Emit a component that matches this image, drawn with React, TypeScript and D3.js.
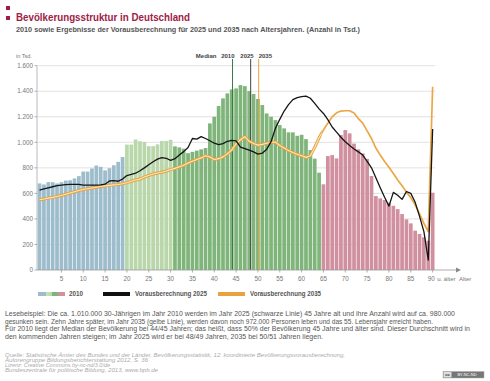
import React from 'react';
import * as d3 from 'd3';

const ages = d3.range(0, 91);
const tickAges = [5, 10, 15, 20, 25, 30, 35, 40, 45, 50, 55, 60, 65, 70, 75, 80, 85, 90];
const yTicks = [0, 200, 400, 600, 800, 1000, 1200, 1400, 1600];

const pop2010 = [
  678, 670, 688, 688, 678, 688, 700, 703, 717, 735,
  771, 771, 795, 818, 808, 780, 797, 820, 847, 885,
  982, 982, 1022, 1008, 1003, 970, 970, 984, 1010, 1010,
  1020, 968, 960, 950, 915, 925, 935, 945, 955, 1148,
  1200, 1284, 1344, 1383, 1414, 1422, 1448, 1440, 1401, 1378,
  1339, 1292, 1226, 1200, 1174, 1135, 1109, 1078, 1078, 1051,
  1059, 1025, 939, 872, 762, 671, 892, 900, 874, 1057,
  1096, 1070, 990, 945, 913, 870, 736, 579, 561, 548,
  527, 503, 477, 438, 397, 365, 308, 282, 256, 230,
  605,
];

const proj2025 = [
  626, 635, 644, 652, 660, 665, 669, 671, 671, 671,
  664, 665, 665, 665, 667, 672, 697, 700, 695, 712,
  740, 748, 758, 777, 800, 824, 848, 868, 880, 875,
  858, 872, 900, 927, 960, 1030, 1025, 1045, 1030, 1012,
  993, 982, 990, 1008, 1015, 1012, 962, 950, 938, 925,
  908, 915, 945, 1005, 1109, 1180, 1245, 1295, 1334, 1350,
  1358, 1362, 1345, 1305, 1262, 1226, 1178, 1120, 1080, 1040,
  1005, 975, 948, 925, 900, 850, 800, 722, 645, 570,
  500, 608, 585, 553, 615, 600, 530, 420, 300, 78,
  1105,
];

const proj2035 = [
  550, 556, 563, 569, 576, 583, 593, 603, 613, 622,
  630, 636, 642, 648, 654, 659, 663, 667, 670, 675,
  684, 695, 705, 712, 728, 740, 752, 760, 766, 775,
  786, 796, 808, 820, 838, 852, 866, 878, 895, 885,
  865, 872, 886, 910, 940, 988, 1020, 1044, 1008, 990,
  978, 984, 992, 1000, 1002, 975, 955, 935, 920, 906,
  895, 882, 895, 960, 1035, 1096, 1150, 1200, 1231, 1245,
  1247, 1247, 1230, 1185, 1150, 1090, 1030, 955, 900, 850,
  805, 755, 705, 660, 610, 565, 510, 440, 365, 300,
  1435,
];

const medianAges = [44.6, 48.76, 50.6];
const medianLabels = ['2010', '2025', '2035'];
const medianColors = ['#3d7a48', '#444444', '#e8a33e'];

const paragraph = [
  'Lesebeispiel: Die ca. 1.010.000 30-Jährigen im Jahr 2010 werden im Jahr 2025 (schwarze Linie) 45 Jahre alt und ihre Anzahl wird auf ca. 980.000',
  'gesunken sein. Zehn Jahre später, im Jahr 2035 (gelbe Linie), werden davon noch 972.000 Personen leben und das 55. Lebensjahr erreicht haben.',
  'Für 2010 liegt der Median der Bevölkerung bei 44/45 Jahren; das heißt, dass 50% der Bevölkerung 45 Jahre und älter sind. Dieser Durchschnitt wird in',
  'den kommenden Jahren steigen; im Jahr 2025 wird er bei 48/49 Jahren, 2035 bei 50/51 Jahren liegen.',
];
const paragraphWidths = [450, 428, 465, 318];

const source = [
  'Quelle: Statistische Ämter des Bundes und der Länder, Bevölkerungsstatistik, 12. koordinierte Bevölkerungsvorausberechnung,',
  'Autorengruppe Bildungsberichterstattung 2012, S. 36',
  'Lizenz: Creative Commons by-nc-nd/3.0/de',
  'Bundeszentrale für politische Bildung, 2013, www.bpb.de',
];
const sourceWidths = [340, 143, 105, 153];

const FONT = '"Liberation Sans", Arial, sans-serif';

function barColor(age: number) {
  if (age < 20) return '#9dbccc';
  if (age < 31) return '#b9d7ab';
  if (age < 65) return '#7fb47a';
  return '#d0909f';
}

export default function App() {
  const W = 490;
  const H = 381;
  const x = d3
    .scaleBand<number>()
    .domain(ages)
    .range([37.7, 434.5])
    .paddingInner(0.15)
    .paddingOuter(0);
  const y = d3.scaleLinear().domain([0, 1600]).range([270, 65.7]);
  const cx = (a: number) => (x(a) as number) + x.bandwidth() / 2;
  const step = x.step();
  const x0 = x(0) as number;
  const medX = (a: number) => x0 + a * step;

  const line = d3
    .line<number>()
    .x((_, i) => cx(ages[i]))
    .y((d) => y(d));

  const d2025 = line(proj2025) || '';
  const d2035 = line(proj2035) || '';
  const clipX = x(65) as number;

  return (
    <svg
      width={W}
      height={H}
      style={{ position: 'absolute', left: 0, top: 0, background: '#fff' }}
      fontFamily={FONT}
    >
      <defs>
        <clipPath id="leftPart">
          <rect x={0} y={0} width={clipX} height={H} />
        </clipPath>
        <clipPath id="rightPart">
          <rect x={clipX} y={0} width={W - clipX} height={H} />
        </clipPath>
        <linearGradient id="legGrad" x1="0" x2="1" y1="0" y2="0">
          <stop offset="0%" stopColor="#9dbccc" />
          <stop offset="28%" stopColor="#9dbccc" />
          <stop offset="30%" stopColor="#c9e0bd" />
          <stop offset="50%" stopColor="#b9d7ab" />
          <stop offset="52%" stopColor="#7fb47a" />
          <stop offset="72%" stopColor="#7fb47a" />
          <stop offset="74%" stopColor="#d0909f" />
          <stop offset="100%" stopColor="#d0909f" />
        </linearGradient>
      </defs>

      {/* Title */}
      <rect x={6} y={6} width={4} height={4} fill="#9e1d45" />
      <rect x={6} y={16} width={4} height={4} fill="#9e1d45" />
      <text x={16} y={21} fontSize={11.5} fontWeight="bold" fill="#9e1d45" textLength={174} lengthAdjust="spacingAndGlyphs">
        Bevölkerungsstruktur in Deutschland
      </text>
      <text x={16} y={32} fontSize={6.8} fontWeight="bold" fill="#555" textLength={344} lengthAdjust="spacingAndGlyphs">
        2010 sowie Ergebnisse der Vorausberechnung für 2025 und 2035 nach Altersjahren. (Anzahl in Tsd.)
      </text>

      <text x={16} y={58} fontSize={6} fill="#777" textLength={16} lengthAdjust="spacingAndGlyphs">
        in Tsd.
      </text>

      {/* Gridlines & y axis */}
      {yTicks.map((t) => (
        <g key={t}>
          {t > 0 && <line x1={37} x2={435} y1={y(t)} y2={y(t)} stroke="#e2e2e2" strokeWidth={1} />}
          <line x1={34.5} x2={37} y1={y(t)} y2={y(t)} stroke="#999" strokeWidth={0.8} />
          <text x={33} y={y(t) + 2.2} fontSize={6.3} fill="#777" textAnchor="end">
            {t === 0 ? '0' : d3.format(',')(t).replace(',', '.')}
          </text>
        </g>
      ))}
      <line x1={37} x2={37} y1={y(1600)} y2={270} stroke="#aaa" strokeWidth={0.8} />

      {/* Bars */}
      {ages.map((a, i) => (
        <rect
          key={a}
          x={x(a)}
          y={y(pop2010[i])}
          width={x.bandwidth()}
          height={270 - y(pop2010[i])}
          fill={barColor(a)}
        />
      ))}

      {/* Median lines */}
      {medianAges.map((m, i) => (
        <line key={i} x1={medX(m)} x2={medX(m)} y1={59} y2={270} stroke={medianColors[i]} strokeWidth={1} />
      ))}
      <text x={medX(medianAges[0]) - 16} y={57.5} fontSize={6} fontWeight="bold" fill="#444" textAnchor="end">
        Median
      </text>
      <text x={medX(medianAges[0]) + 2} y={57.5} fontSize={6} fontWeight="bold" fill="#444" textAnchor="end">
        {medianLabels[0]}
      </text>
      <text x={medX(medianAges[1]) + 3} y={57.5} fontSize={6} fontWeight="bold" fill="#444" textAnchor="end">
        {medianLabels[1]}
      </text>
      <text x={medX(medianAges[2])} y={57.5} fontSize={6} fontWeight="bold" fill="#444">
        {medianLabels[2]}
      </text>

      {/* 2035 line (orange) */}
      <g clipPath="url(#leftPart)">
        <path d={d2035} fill="none" stroke="#e6a23c" strokeWidth={3} strokeLinejoin="round" />
        <path d={d2035} fill="none" stroke="#fde6bd" strokeWidth={1.1} strokeLinejoin="round" />
      </g>
      <g clipPath="url(#rightPart)">
        <path d={d2035} fill="none" stroke="#eaa745" strokeWidth={1.7} strokeLinejoin="round" />
      </g>

      {/* 2025 line (black) */}
      <path d={d2025} fill="none" stroke="#151515" strokeWidth={1.3} strokeLinejoin="round" />

      {/* X axis */}
      <line x1={37} x2={458} y1={270} y2={270} stroke="#999" strokeWidth={0.8} />
      <path d="M456,267.6 L461,270 L456,272.4 Z" fill="#888" />
      {tickAges.map((t) => (
        <g key={t}>
          <line x1={cx(t)} x2={cx(t)} y1={270} y2={272.5} stroke="#999" strokeWidth={0.8} />
          <text x={cx(t) - (t === 90 ? 1.5 : 0)} y={281} fontSize={6.3} fill="#777" textAnchor="middle">
            {t}
          </text>
        </g>
      ))}
      <text x={cx(90) + 4.5} y={281} fontSize={6} fill="#777">
        u. älter
      </text>
      <text x={459} y={281} fontSize={6} fill="#777">
        Alter
      </text>

      {/* Legend */}
      <rect x={38} y={292} width={27} height={4} fill="url(#legGrad)" />
      <text x={69} y={296.3} fontSize={6.3} fontWeight="bold" fill="#555">
        2010
      </text>
      <rect x={103} y={292} width={27} height={4} fill="#111" />
      <text x={135} y={296.3} fontSize={6.3} fontWeight="bold" fill="#555" textLength={72} lengthAdjust="spacingAndGlyphs">
        Vorausberechnung 2025
      </text>
      <rect x={218} y={292} width={27} height={4} fill="#e8a33e" />
      <text x={250} y={296.3} fontSize={6.3} fontWeight="bold" fill="#555" textLength={71} lengthAdjust="spacingAndGlyphs">
        Vorausberechnung 2035
      </text>

      {/* Paragraph */}
      {paragraph.map((p, i) => (
        <text
          key={i}
          x={5}
          y={316 + i * 7.6}
          fontSize={6.3}
          fill="#555"
          textLength={paragraphWidths[i]}
          lengthAdjust="spacingAndGlyphs"
        >
          {p}
        </text>
      ))}

      {/* Source */}
      {source.map((s, i) => (
        <text
          key={i}
          x={5}
          y={357 + i * 4.9}
          fontSize={5}
          fontStyle="italic"
          fill="#aaa"
          textLength={sourceWidths[i]}
          lengthAdjust="spacingAndGlyphs"
        >
          {s}
        </text>
      ))}

      {/* CC badge */}
      <rect x={443} y={371.5} width={41} height={6.5} fill="#777" stroke="#aaa" strokeWidth={0.5} />
      <rect x={443.5} y={372} width={8} height={5.5} fill="#ddd" />
      <text x={447.5} y={376.3} fontSize={4} fontWeight="bold" fill="#333" textAnchor="middle">
        cc
      </text>
      <text x={467} y={376.3} fontSize={4} fill="#fff" textAnchor="middle">
        BY-NC-ND
      </text>
    </svg>
  );
}
